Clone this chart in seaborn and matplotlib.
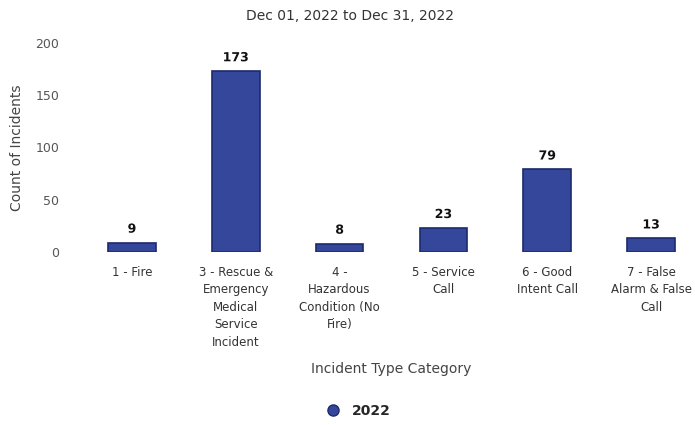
"""
incident type bar chart
"""

import pandas as pd
import seaborn as sns
import matplotlib.pyplot as plt
import matplotlib.patheffects as pe
from matplotlib.lines import Line2D

# data
categories = [
    "1 - Fire",
    "3 - Rescue &\nEmergency\nMedical\nService\nIncident",
    "4 -\nHazardous\nCondition (No\nFire)",
    "5 - Service\nCall",
    "6 - Good\nIntent Call",
    "7 - False\nAlarm & False\nCall",
]
counts = [9, 173, 8, 23, 79, 13]
y_ticks = [0, 50, 100, 150, 200]
series_name = "2022"
title = "Dec 01, 2022 to Dec 31, 2022"

df = pd.DataFrame({"category": categories, "count": counts})

# configurations
sns.set_style("white")
plt.rcParams["font.family"] = "DejaVu Sans"

bar_color = "#34479a"
edge_color = "#1c2a6e"
text_color = "#555555"

fig = plt.figure(figsize=(6.95, 4.25), dpi=100)
ax = fig.add_axes([80 / 695, 1 - 252 / 425, 623 / 695, 209 / 425])

sns.barplot(data=df, x="category", y="count", color=bar_color, width=0.46,
            edgecolor=edge_color, linewidth=1.2, saturation=1, ax=ax)

# value labels with white outline
for i, v in enumerate(counts):
    ax.annotate(str(v), (i, v), xytext=(0, 5), textcoords="offset points",
                ha="center", va="bottom", fontsize=9, fontweight="bold", color="#111111",
                path_effects=[pe.withStroke(linewidth=2.5, foreground="white")])

# polish
ax.set_xlim(-0.5, len(categories) - 0.5)
ax.set_ylim(0, 200)
ax.set_yticks(y_ticks)
ax.tick_params(axis="y", length=0, pad=15, labelsize=9, labelcolor=text_color)
ax.tick_params(axis="x", length=0, pad=10, labelsize=8.5, labelcolor="#333333")
for lbl in ax.get_xticklabels():
    lbl.set_linespacing(1.45)
for s in ax.spines.values():
    s.set_visible(False)

ax.set_ylabel("Count of Incidents", fontsize=10, color="#444444", labelpad=8)
ax.set_xlabel("")
fig.text(391 / 695, 1 - 369 / 425, "Incident Type Category", ha="center", va="center",
         fontsize=10, color="#444444")
fig.text(350 / 695, 1 - 16 / 425, title, ha="center", va="center",
         fontsize=10, color="#333333")

# legend
handle = Line2D([0], [0], marker="o", linestyle="", markersize=8,
                markerfacecolor=bar_color, markeredgecolor=edge_color)
fig.legend([handle], [series_name], loc="center", bbox_to_anchor=(355 / 695, 1 - 411 / 425),
           frameon=False, handletextpad=0.3, prop={"size": 10, "weight": "bold"})

plt.savefig("out.png", dpi=100)
